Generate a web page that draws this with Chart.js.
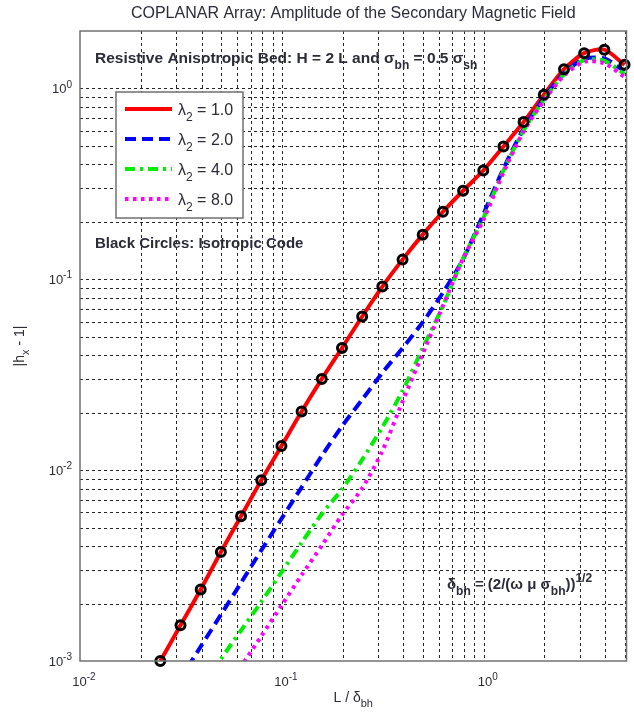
<!DOCTYPE html>
<html>
<head>
<meta charset="utf-8">
<script src="https://cdn.jsdelivr.net/npm/chart.js@4.4.1/dist/chart.umd.min.js"></script>
<style>
  html,body{margin:0;padding:0;background:#fff;}
  #wrap{width:634px;height:717px;}
</style>
</head>
<body>
<div id="wrap"><canvas id="c" width="634" height="717"></canvas></div>
<script>
/* L / delta_bh sample points */
const lOverDelta = [0.025,0.03147,0.03962,0.04988,0.06279,0.07906,0.09953,0.1253,0.1577,0.1986,0.25,0.3147,
                    0.3962,0.4988,0.6279,0.7906,0.9953,1.253,1.577,1.986,2.5,3.147,3.962,4.988];
/* |hx - 1| for each lambda_2 */
const ampL1 = [0.00100,0.001538,0.002371,0.003724,0.005741,0.008851,0.01337,0.02028,0.03006,0.04365,0.06383,0.09162,
               0.1268,0.1714,0.2259,0.2911,0.3715,0.4966,0.6668,0.9268,1.262,1.531,1.596,1.330];
const ampL2 = [0.000551,0.000809,0.001189,0.001746,0.00257,0.0038,0.00556,0.00813,0.01189,0.01698,0.02344,0.03236,
               0.04365,0.05957,0.08511,0.1274,0.2188,0.3802,0.6166,0.8913,1.202,1.429,1.435,1.230];
const ampL4 = [0.000355,0.000501,0.000708,0.001023,0.001445,0.002042,0.002917,0.004169,0.005888,0.007943,0.01135,0.01679,
               0.02600,0.04365,0.07244,0.1288,0.2089,0.3715,0.6026,0.8710,1.183,1.406,1.396,1.189];
const ampL8 = [0.000214,0.000309,0.000447,0.000646,0.000933,0.001349,0.00195,0.002818,0.004027,0.005821,0.008035,0.01259,
               0.02291,0.04074,0.07244,0.1288,0.2042,0.3631,0.5957,0.8610,1.169,1.380,1.355,1.148];
/* isotropic code (black circles) */
const ampIso = [0.00100,0.001538,0.002371,0.003724,0.005741,0.008851,0.01337,0.02028,0.03006,0.04365,0.06383,0.09162,
                0.1268,0.1714,0.2259,0.2911,0.3715,0.4966,0.6668,0.9268,1.262,1.531,1.596,1.330];

const xDecades = [0.01, 0.1, 1];
const yDecades = [0.001, 0.01, 0.1, 1];
const minorSteps = [1,2,3,4,5,6,7,8,9];
const xTickExp = ['-2','-1','0'];
const yTickExp = ['-3','-2','-1','0'];
const lambdaLabels = ['1.0','2.0','4.0','8.0'];

const FAM = '"Liberation Sans", Arial, sans-serif';
const TXT = '#2b2b3a';

const pts = arr => lOverDelta.map((x, i) => ({x, y: arr[i]}));

const series = [
  {data: ampL1, color:'#ff0000', dash:[],          width:4,   order:4},
  {data: ampL2, color:'#0000ff', dash:[11,6],      width:4,   order:3},
  {data: ampL4, color:'#00ee00', dash:[10,5,3,5],  width:4,   order:2},
  {data: ampL8, color:'#ff00ff', dash:[3.5,4.5],   width:4,   order:1}
];

/* text with sub / superscripts */
function rich(ctx, x, y, parts, size, weight, align) {
  const f = k => `${weight} ${k ? Math.round(size*0.78) : size}px ${FAM}`;
  let w = 0;
  parts.forEach(([t,k]) => { ctx.font = f(k); w += ctx.measureText(t).width; });
  let cx = align === 'center' ? x - w/2 : align === 'right' ? x - w : x;
  parts.forEach(([t,k]) => {
    ctx.font = f(k);
    const dy = k === 'sub' ? size*0.38 : k === 'sup' ? -size*0.45 : 0;
    ctx.fillText(t, cx, y + dy);
    cx += ctx.measureText(t).width;
  });
}

const decor = {
  id: 'decor',
  beforeDraw(chart) {
    const ctx = chart.ctx;
    ctx.save();
    ctx.fillStyle = '#fff';
    ctx.fillRect(0, 0, chart.width, chart.height);
    ctx.restore();
  },
  beforeDatasetsDraw(chart) {
    const {ctx, chartArea:a, scales:{x:xs, y:ys}} = chart;
    ctx.save();
    ctx.strokeStyle = 'rgba(0,0,0,0.85)';
    ctx.lineWidth = 1;
    ctx.setLineDash([3,3]);
    ctx.beginPath();
    xDecades.forEach(d => minorSteps.forEach(m => {
      const v = d*m;
      if (v <= xs.min*1.0001 || v >= xs.max) return;
      const px = Math.round(xs.getPixelForValue(v)) + 0.5;
      ctx.moveTo(px, a.top); ctx.lineTo(px, a.bottom);
    }));
    yDecades.forEach(d => minorSteps.forEach(m => {
      const v = d*m;
      if (v <= ys.min*1.0001 || v >= ys.max) return;
      const py = Math.round(ys.getPixelForValue(v)) + 0.5;
      ctx.moveTo(a.left, py); ctx.lineTo(a.right, py);
    }));
    ctx.stroke();
    ctx.restore();
  },
  afterDatasetsDraw(chart) {
    const {ctx, chartArea:a, scales:{x:xs, y:ys}} = chart;
    ctx.save();
    // frame
    ctx.strokeStyle = '#707070';
    ctx.lineWidth = 1.5;
    ctx.strokeRect(a.left, a.top, a.right - a.left, a.bottom - a.top);

    ctx.fillStyle = TXT;
    ctx.textBaseline = 'alphabetic';
    // title
    rich(ctx, (a.left + a.right)/2, 18, [['COPLANAR Array: Amplitude of the Secondary Magnetic Field','']], 16, 'normal', 'center');
    // tick labels
    xDecades.forEach((d, i) => {
      const px = xs.getPixelForValue(d);
      rich(ctx, px + 4, 686, [['10',''],[xTickExp[i],'sup']], 13, 'normal', 'center');
    });
    yDecades.forEach((d, i) => {
      const py = ys.getPixelForValue(d);
      rich(ctx, a.left - 8, py + 5, [['10',''],[yTickExp[i],'sup']], 13, 'normal', 'right');
    });
    // axis labels
    rich(ctx, (a.left + a.right)/2, 702, [['L / \u03b4',''],['bh','sub']], 14, 'normal', 'center');
    ctx.save();
    ctx.translate(24, (a.top + a.bottom)/2);
    ctx.rotate(-Math.PI/2);
    rich(ctx, 0, 0, [['|h',''],['x','sub'],[' - 1|','']], 14, 'normal', 'center');
    ctx.restore();

    // annotations
    rich(ctx, 95, 63, [['Resistive Anisotropic Bed: H = 2 L and \u03c3',''],['bh','sub'],[' = 0.5 \u03c3',''],['sh','sub']], 15.5, 'bold', 'left');
    rich(ctx, 95, 248, [['Black Circles: Isotropic Code','']], 15, 'bold', 'left');
    rich(ctx, 447, 589, [['\u03b4',''],['bh','sub'],[' = (2/(\u03c9 \u03bc \u03c3',''],['bh','sub'],['))',''],['1/2','sup']], 15, 'bold', 'left');

    // legend
    const bx = 116, by = 92, bw = 127, bh = 126;
    ctx.fillStyle = '#fff';
    ctx.fillRect(bx, by, bw, bh);
    ctx.strokeStyle = '#707070';
    ctx.lineWidth = 1.5;
    ctx.strokeRect(bx, by, bw, bh);
    const rows = [109, 139, 169, 199];
    series.forEach((s, i) => {
      ctx.strokeStyle = s.color;
      ctx.lineWidth = s.width;
      ctx.setLineDash(s.dash);
      ctx.beginPath();
      ctx.moveTo(125, rows[i]); ctx.lineTo(172, rows[i]);
      ctx.stroke();
      ctx.setLineDash([]);
      ctx.fillStyle = TXT;
      rich(ctx, 178, rows[i] + 6, [['\u03bb',''],['2','sub'],[' = ' + lambdaLabels[i],'']], 16, 'normal', 'left');
    });
    ctx.restore();
  }
};

const datasets = series.map(s => ({
  data: pts(s.data),
  borderColor: s.color,
  borderWidth: s.width,
  borderDash: s.dash,
  pointRadius: 0,
  tension: 0.25,
  fill: false,
  clip: 0,
  order: s.order
}));
datasets.push({
  data: pts(ampIso),
  showLine: false,
  pointRadius: 4.5,
  pointBorderWidth: 3,
  pointBorderColor: '#000',
  pointBackgroundColor: 'rgba(0,0,0,0)',
  clip: false,
  order: 0
});

new Chart(document.getElementById('c'), {
  type: 'line',
  data: { datasets },
  options: {
    responsive: false,
    animation: false,
    devicePixelRatio: 1,
    layout: { padding: { left: 80, top: 31, right: 7, bottom: 56 } },
    plugins: { legend: { display: false }, tooltip: { enabled: false } },
    scales: {
      x: { type: 'logarithmic', min: 0.01, max: 5.1, display: false },
      y: { type: 'logarithmic', min: 0.001, max: 2, display: false }
    }
  },
  plugins: [decor]
});
</script>
</body>
</html>
